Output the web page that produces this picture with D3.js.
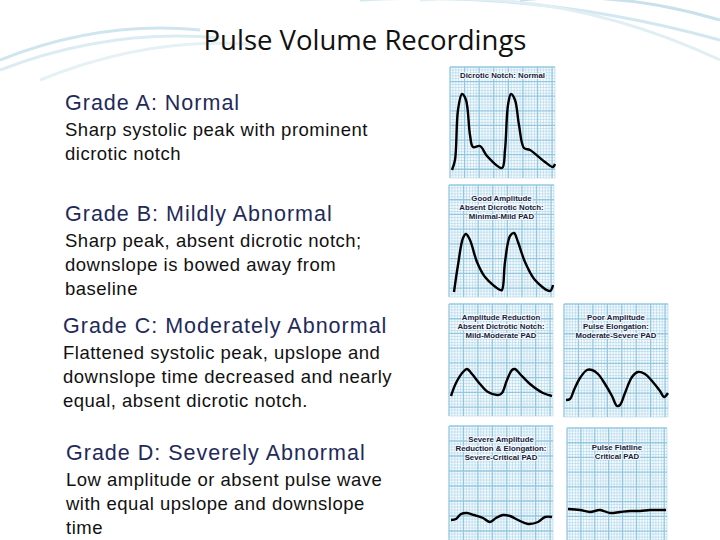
<!DOCTYPE html><html><head><meta charset="utf-8">
<script src="https://cdn.jsdelivr.net/npm/d3@7"></script>
<style>body{margin:0;background:#fff}svg{display:block}</style></head><body>
<svg id="c" width="720" height="540"></svg>
<script>
const panelTitles=[["Dicrotic Notch: Normal"],["Good Amplitude","Absent Dicrotic Notch:","Minimal-Mild PAD"],["Amplitude Reduction","Absent Dictrotic Notch:","Mild-Moderate PAD"],["Poor Amplitude","Pulse Elongation:","Moderate-Severe PAD"],["Severe Amplitude","Reduction & Elongation:","Severe-Critical PAD"],["Pulse Flatline","Critical PAD"]];
const timeA=[2,5,8,12,16,20,23,30,37,52,55,58,61,65,69,74,80,95,103,105];
const ampA=[8,18,68,84,78,43,31,32,22,10,28,73,84,78,53,30,28,16,11,14];
const timeB=[5,9,14,17,21,28,36,51,53,56,61,65,69,76,86,101,104];
const ampB=[5,32,59,63,57,35,20,7,7,35,61,64,55,35,17,6,12];
const timeC1=[2,7,14,18,23,31,39,49,53,58,63,66,71,81,94,103];
const ampC1=[20,33,44,47,42,32,24,21,23,36,46,47,42,32,23,20];
const timeC2=[2,6,10,16,23,28,34,41,48,53,56,61,68,74,81,88,96,100,104];
const ampC2=[17,18,27,39,47,47,43,33,21,11,12,24,40,45,43,36,26,20,24];
const timeD1=[2,7,12,18,25,34,41,47,54,61,69,79,89,96,103];
const ampD1=[20,21,26,27,25,22,18,22,25,24,20,16,18,23,23];
const timeD2=[1,13,23,33,43,53,63,73,83,93,99];
const ampD2=[31,30,28,30,27,28,29,29,30,30,30];
const grades=[
 {h:"Grade A: Normal",b:["Sharp systolic peak with prominent","dicrotic notch"],x:65,y:110},
 {h:"Grade B: Mildly Abnormal",b:["Sharp peak, absent dicrotic notch;","downslope is bowed away from","baseline"],x:65,y:221},
 {h:"Grade C: Moderately Abnormal",b:["Flattened systolic peak, upslope and","downslope time decreased and nearly","equal, absent dicrotic notch."],x:63,y:333},
 {h:"Grade D: Severely Abnormal",b:["Low amplitude or absent pulse wave","with equal upslope and downslope","time"],x:66,y:460}];
const panels=[
 {x:450,y:67,w:105,h:111,t:timeA,a:ampA},
 {x:449,y:185,w:105,h:112,t:timeB,a:ampB},
 {x:449,y:304,w:104,h:112,t:timeC1,a:ampC1},
 {x:564,y:304,w:104,h:113,t:timeC2,a:ampC2},
 {x:449,y:426,w:104,h:114,t:timeD1,a:ampD1},
 {x:567,y:428,w:100,h:112,t:timeD2,a:ampD2}];
const svg=d3.select("#c");
const deco=svg.append("g").attr("fill","none");
[[0,60,200,30,"#cfe6ef"],[0,70,220,38,"#dcecf3"],[40,80,260,45,"#e6f1f6"],[360,0,720,40,"#d2e7ef"],[420,0,720,60,"#e1eff5"],[520,0,720,20,"#c8e1eb"]].forEach(([x1,y1,x2,y2,c])=>{
 deco.append("path").attr("d",`M${x1},${y1} Q${(x1+x2)/2},${Math.min(y1,y2)-10} ${x2},${y2}`).attr("stroke",c).attr("stroke-width",3);});
svg.append("text").attr("x",365).attr("y",50).attr("text-anchor","middle").attr("font-family","Open Sans, sans-serif").attr("font-size",27.5).attr("fill","#111").text("Pulse Volume Recordings");
grades.forEach(g=>{
 svg.append("text").attr("x",g.x).attr("y",g.y).attr("font-family","Liberation Sans, Arial").attr("font-size",21.5).attr("letter-spacing",1).attr("fill","#1f2a5a").text(g.h);
 g.b.forEach((l,i)=>svg.append("text").attr("x",g.x).attr("y",g.y+26+i*24).attr("font-family","Liberation Sans, Arial").attr("font-size",18.5).attr("letter-spacing",0.5).attr("fill","#111").text(l));
});
panels.forEach((p,k)=>{
 const g=svg.append("g").attr("transform",`translate(${p.x},${p.y})`);
 g.append("rect").attr("width",p.w).attr("height",p.h).attr("fill","#f4fafd");
 const gx=d3.scaleLinear().domain([0,36]).range([0,p.w]);
 const gy=d3.scaleLinear().domain([0,38]).range([0,p.h]);
 d3.range(0,37).forEach(i=>g.append("line").attr("x1",gx(i)).attr("x2",gx(i)).attr("y1",0).attr("y2",p.h).attr("stroke","#8fc6e0").attr("stroke-width",i%5==0?1.3:0.6).attr("opacity",i%5==0?0.95:0.65));
 d3.range(0,39).forEach(i=>g.append("line").attr("y1",gy(i)).attr("y2",gy(i)).attr("x1",0).attr("x2",p.w).attr("stroke","#8fc6e0").attr("stroke-width",i%5==0?1.3:0.6).attr("opacity",i%5==0?0.95:0.65));
 panelTitles[k].forEach((l,i)=>g.append("text").attr("x",p.w/2).attr("y",(k==0?11:(k==5?22:16))+i*9).attr("text-anchor","middle").attr("font-family","Liberation Sans, Arial").attr("font-weight","bold").attr("font-size",7.8).attr("fill","#1a1a3a").attr("stroke","#f4fafd").attr("stroke-width",2).attr("paint-order","stroke").text(l));
 const x=d3.scaleLinear().domain([0,p.w]).range([0,p.w]);
 const y=d3.scaleLinear().domain([0,p.h]).range([p.h,0]);
 const line=d3.line().x((d,i)=>x(p.t[i])).y(d=>y(d)).curve(d3.curveCatmullRom);
 g.append("path").datum(p.a).attr("d",line).attr("fill","none").attr("stroke","#000").attr("stroke-width",2.4).attr("stroke-linejoin","round");
});
</script></body></html>
